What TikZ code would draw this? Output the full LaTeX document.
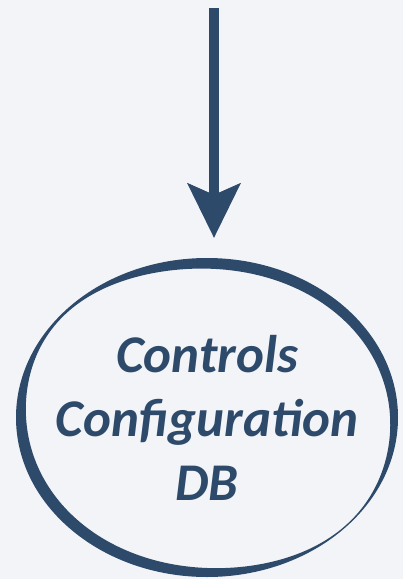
\documentclass[tikz,border=0pt]{standalone}
\usepackage{fontspec}
\setmainfont{Carlito}
\usetikzlibrary{arrows.meta,shapes.geometric}
\definecolor{inkblue}{HTML}{2E4A6B}
\definecolor{paper}{HTML}{F3F4F8}
\begin{document}
\begin{tikzpicture}[x=1pt,y=-1pt,
  store/.style={ellipse, minimum width=382pt, minimum height=319pt, inner sep=0pt,
    align=center, text=inkblue,
    font=\fontsize{53}{64}\selectfont\bfseries\itshape},
  flow/.style={draw=inkblue, line width=10pt,
    -{Stealth[length=55pt,width=54pt,inset=12pt,line width=0pt]}, shorten >=20pt},
  ring/.style={fill=inkblue, even odd rule},
  declare function={rw(\t)=11+1.5*cos(\t-180)+0.8*sin(\t)
    -10*exp(6*(cos(\t-140)-1))-8*exp(6*(cos(\t-317)-1));}]
% canvas
\fill[paper] (0,0) rectangle (403,579);
\useasboundingbox (0,0) rectangle (403,579);

% data store
\node[store] (db) at (207,417.5) {Controls\\Configuration\\DB};

% incoming flow
\coordinate (src) at (214,8);
\draw[flow] (src) -- (src |- db.north);

% brush-stroke outline: outer ellipse minus an inner curve of varying width
\fill[ring] (db.center) ellipse [x radius=191, y radius=159.5]
  plot[domain=0:360, samples=241, smooth, variable=\t]
    ({207+(191-rw(\t))*cos(\t)}, {417.5-(159.5-rw(\t))*sin(\t)}) -- cycle;
\end{tikzpicture}
\end{document}
